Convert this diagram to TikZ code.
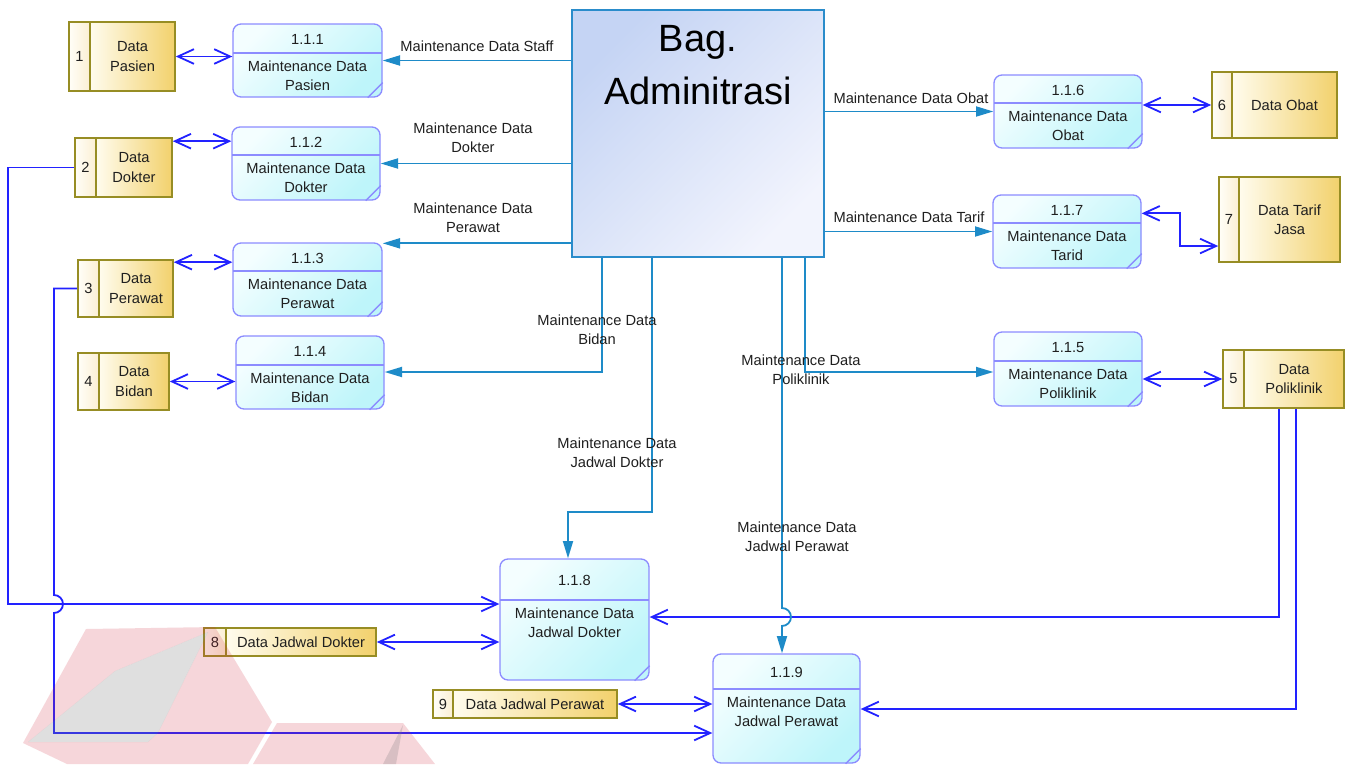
\documentclass[tikz,border=0pt]{standalone}
\usepackage{fontspec}
\setmainfont{Liberation Sans}
\usetikzlibrary{arrows.meta}

\definecolor{flowblue}{HTML}{1E8BC8}
\definecolor{linkblue}{HTML}{2222FF}
\definecolor{procborder}{HTML}{8C8CFF}
\definecolor{procA}{HTML}{F4FEFF}
\definecolor{procB}{HTML}{BEF5FA}
\definecolor{admA}{HTML}{C5D4F4}
\definecolor{admB}{HTML}{F2F4FD}
\definecolor{admborder}{HTML}{2A8CCB}
\definecolor{storeborder}{HTML}{978D24}
\definecolor{storeA}{HTML}{FFFCEE}
\definecolor{storeB}{HTML}{F2D16C}
\definecolor{cellA}{HTML}{FFFEF8}
\definecolor{cellB}{HTML}{FBEFD3}
\definecolor{markred}{HTML}{D02A3C}
\definecolor{markgrey}{HTML}{7A7A7A}

\tikzset{
  x=0.75pt, y=-0.75pt,
  lbl/.style={font=\fontsize{11}{14.5}\selectfont, align=center, inner sep=0pt, text=black!88},
  procframe/.style={draw=procborder, line width=1pt, rounded corners=6pt,
    top color=procA, bottom color=procB, shading angle=45, inner sep=0pt},
  procrule/.style={draw=procborder, line width=1pt},
  storeframe/.style={draw=storeborder, line width=1.2pt, inner sep=0pt},
  storebody/.style={left color=storeA, right color=storeB},
  storecell/.style={left color=cellA, right color=cellB},
  storerule/.style={draw=storeborder, line width=1.2pt},
  admframe/.style={draw=admborder, line width=1.4pt, top color=admA, bottom color=admB,
    shading angle=45, inner sep=0pt},
  flow/.style={draw=flowblue, line width=1.35pt, -{Triangle[length=13pt,width=7.5pt]}},
  link/.style={draw=linkblue, line width=1.35pt,
    {Straight Barb[length=12pt,width=11pt]}-{Straight Barb[length=12pt,width=11pt]}},
  linkone/.style={draw=linkblue, line width=1.35pt, -{Straight Barb[length=12pt,width=11pt]}},
  hop/.style={start angle=90, end angle=-90, radius=6.75pt},
}

% process: name, left, top, right, bottom, header rule, number, label
\newcommand{\procnode}[8]{%
  \pgfmathsetmacro{\pcx}{(#2+#4)/2}%
  \pgfmathsetmacro{\pcy}{(#3+#5)/2}%
  \pgfmathsetmacro{\pwd}{(#4-#2)*0.75}%
  \pgfmathsetmacro{\pht}{(#5-#3)*0.75}%
  \pgfmathsetmacro{\pny}{(#3+#6)/2+1}%
  \pgfmathsetmacro{\pty}{#6+23}%
  \node[procframe, minimum width=\pwd pt, minimum height=\pht pt] (#1) at (\pcx,\pcy) {};
  \draw[procrule] (#2,#6) -- (#4,#6);
  \draw[procrule] ([yshift=11.25pt]#1.south east) -- ([xshift=-11.25pt]#1.south east);
  \node[lbl] (#1num) at (\pcx,\pny) {#7};
  \node[lbl] (#1txt) at (\pcx,\pty) {#8};
}

% data store: name, left, top, right, bottom, divider, number, label
\newcommand{\storenode}[8]{%
  \pgfmathsetmacro{\scx}{(#2+#4)/2}%
  \pgfmathsetmacro{\scy}{(#3+#5)/2}%
  \pgfmathsetmacro{\swd}{(#4-#2)*0.75}%
  \pgfmathsetmacro{\sht}{(#5-#3)*0.75}%
  \pgfmathsetmacro{\snx}{(#2+#6)/2}%
  \pgfmathsetmacro{\stx}{(#6+#4)/2}%
  \shade[storebody] (#6,#3) rectangle (#4,#5);
  \shade[storecell] (#2,#3) rectangle (#6,#5);
  \node[storeframe, minimum width=\swd pt, minimum height=\sht pt] (#1) at (\scx,\scy) {};
  \draw[storerule] (#6,#3) -- (#6,#5);
  \node[lbl] (#1num) at (\snx,\scy) {#7};
  \node[lbl] (#1txt) at (\stx,\scy) {#8};
}

\begin{document}
\begin{tikzpicture}
\fill[white] (0,0) rectangle (1345,764);
\useasboundingbox (0,0) rectangle (1345,764);

% central external entity
\node[admframe, minimum width=189pt, minimum height=185.25pt] (adm) at (698,133.5) {};
\node[font=\fontsize{28.5}{39.75}\selectfont, align=center, inner sep=0pt] (admtxt) at (698,65.5) {Bag.\\Adminitrasi};

% processes
\procnode{p111}{233}{24}{382}{97}{53}{1.1.1}{Maintenance Data\\Pasien}
\procnode{p112}{232}{127}{380}{200}{155}{1.1.2}{Maintenance Data\\Dokter}
\procnode{p113}{233}{243}{382}{316}{271}{1.1.3}{Maintenance Data\\Perawat}
\procnode{p114}{236}{336}{384}{409}{365}{1.1.4}{Maintenance Data\\Bidan}
\procnode{p116}{994}{75}{1142}{148}{103}{1.1.6}{Maintenance Data\\Obat}
\procnode{p117}{993}{195}{1141}{268}{223}{1.1.7}{Maintenance Data\\Tarid}
\procnode{p115}{994}{332}{1142}{406}{361}{1.1.5}{Maintenance Data\\Poliklinik}
\procnode{p118}{500}{559}{649}{680}{600}{1.1.8}{Maintenance Data\\Jadwal Dokter}
\procnode{p119}{713}{654}{860}{763}{689}{1.1.9}{Maintenance Data\\Jadwal Perawat}

% data stores
\storenode{s1}{69}{22}{175}{91}{90}{1}{Data\\Pasien}
\storenode{s2}{75}{138}{172}{197}{96}{2}{Data\\Dokter}
\storenode{s3}{78}{260}{173}{317}{99}{3}{Data\\Perawat}
\storenode{s4}{78}{353}{169}{410}{99}{4}{Data\\Bidan}
\storenode{s6}{1212}{72}{1337}{138}{1232}{6}{Data Obat}
\storenode{s7}{1219}{177}{1340}{262}{1239}{7}{Data Tarif\\Jasa}
\storenode{s5}{1223}{350}{1344}{408}{1244}{5}{Data\\Poliklinik}
\storenode{s8}{204}{628}{376}{656}{226}{8}{Data Jadwal Dokter}
\storenode{s9}{433}{690}{617}{718}{453}{9}{Data Jadwal Perawat}

% bend points and line hops
\coordinate (s2o) at ([yshift=-3pt]s2.north east);
\coordinate (s3o) at ([yshift=-2.25pt]s3.north east);
\coordinate (p117o) at ([yshift=-14.25pt]p117.north east);
\coordinate (s7i) at ([yshift=-19.9pt]s7.west);
\coordinate (k7) at (1180,230);
\coordinate (k2) at (8,604);
\coordinate (h3) at (54,604);
\coordinate (k3) at (54,733);
\coordinate (k5a) at (1279,617);
\coordinate (k5b) at (1296,709);
\coordinate (p113i) at ([yshift=-0.75pt]p113.north east);
\coordinate (k114) at (602,372);
\coordinate (k118a) at (652,512);
\coordinate (k118b) at (568,512);
\coordinate (h119) at (782,617);
\coordinate (k115) at (805,372);

% store links
\draw[link] (s1.east) -- (s1.east -| p111.west);
\draw[link] (s2o) -- (s2o -| p112.west);
\draw[link] (s3o) -- (s3o -| p113.west);
\draw[link] (s4.east) -- (s4.east -| p114.west);
\draw[link] (p116.east |- s6.west) -- (s6.west);
\draw[link] (p117o) -- (p117o -| k7) -- (s7i -| k7) -- (s7i);
\draw[link] (p115.east |- s5.west) -- (s5.west);
\draw[link] (s8.east) -- (s8.east -| p118.west);
\draw[link] (s9.east) -- (s9.east -| p119.west);
\draw[linkone] (s2.west) -| (k2) -- (k2 -| p118.west);
\draw[linkone] (s3.west) -| ([yshift=6.75pt]h3) arc[hop] -- (k3) -- (k3 -| p119.west);
\draw[linkone] (k5a |- s5.south) -- (k5a) -- (k5a -| p118.east);
\draw[linkone] (k5b |- s5.south) -- (k5b) -- (k5b -| p119.east);

% flows from the administration
\draw[flow] (adm.west |- p111.east) -- (p111.east);
\draw[flow] (adm.west |- p112.east) -- (p112.east);
\draw[flow] (adm.west |- p113i) -- (p113i);
\draw[flow] (adm.south -| k114) -- (k114) -- (k114 -| p114.east);
\draw[flow] (adm.south -| k118a) -- (k118a) -- (k118b) -- (k118b |- p118.north);
\draw[flow] (adm.south -| h119) -- ([yshift=6.75pt]h119) arc[hop] -- (h119 |- p119.north);
\draw[flow] (adm.south -| k115) -- (k115) -- (k115 -| p115.west);
\draw[flow] (adm.east |- p116.west) -- (p116.west);
\draw[flow] (adm.east |- p117.west) -- (p117.west);

% flow labels
\node[lbl] (fstaff) at (477,46) {Maintenance Data Staff};
\node[lbl] (fdokter) at (473,138) {Maintenance Data\\Dokter};
\node[lbl] (fperawat) at (473,218) {Maintenance Data\\Perawat};
\node[lbl] (fbidan) at (597,330) {Maintenance Data\\Bidan};
\node[lbl] (fjdokter) at (617,453) {Maintenance Data\\Jadwal Dokter};
\node[lbl] (fpoli) at (801,370) {Maintenance Data\\Poliklinik};
\node[lbl] (fjperawat) at (797,537) {Maintenance Data\\Jadwal Perawat};
\node[lbl] (fobat) at (911,98) {Maintenance Data Obat};
\node[lbl] (ftarif) at (909,217) {Maintenance Data Tarif};

% faint logo mark
\fill[markred, opacity=0.19, even odd rule]
  (23,743) -- (86,629) -- (215,627) -- (272,722) -- (248,764) -- (67,764) -- cycle
  (28,742) -- (115,671) -- (208,632) -- (158,733) -- (148,742) -- cycle;
\fill[markgrey, opacity=0.24]
  (28,742) -- (115,671) -- (208,632) -- (158,733) -- (148,742) -- cycle;
\fill[markred, opacity=0.19] (277,723) -- (403,723) -- (435,764) -- (253,764) -- cycle;
\fill[markgrey, opacity=0.24] (403,725) -- (383,764) -- (396,764) -- cycle;
\end{tikzpicture}
\end{document}
